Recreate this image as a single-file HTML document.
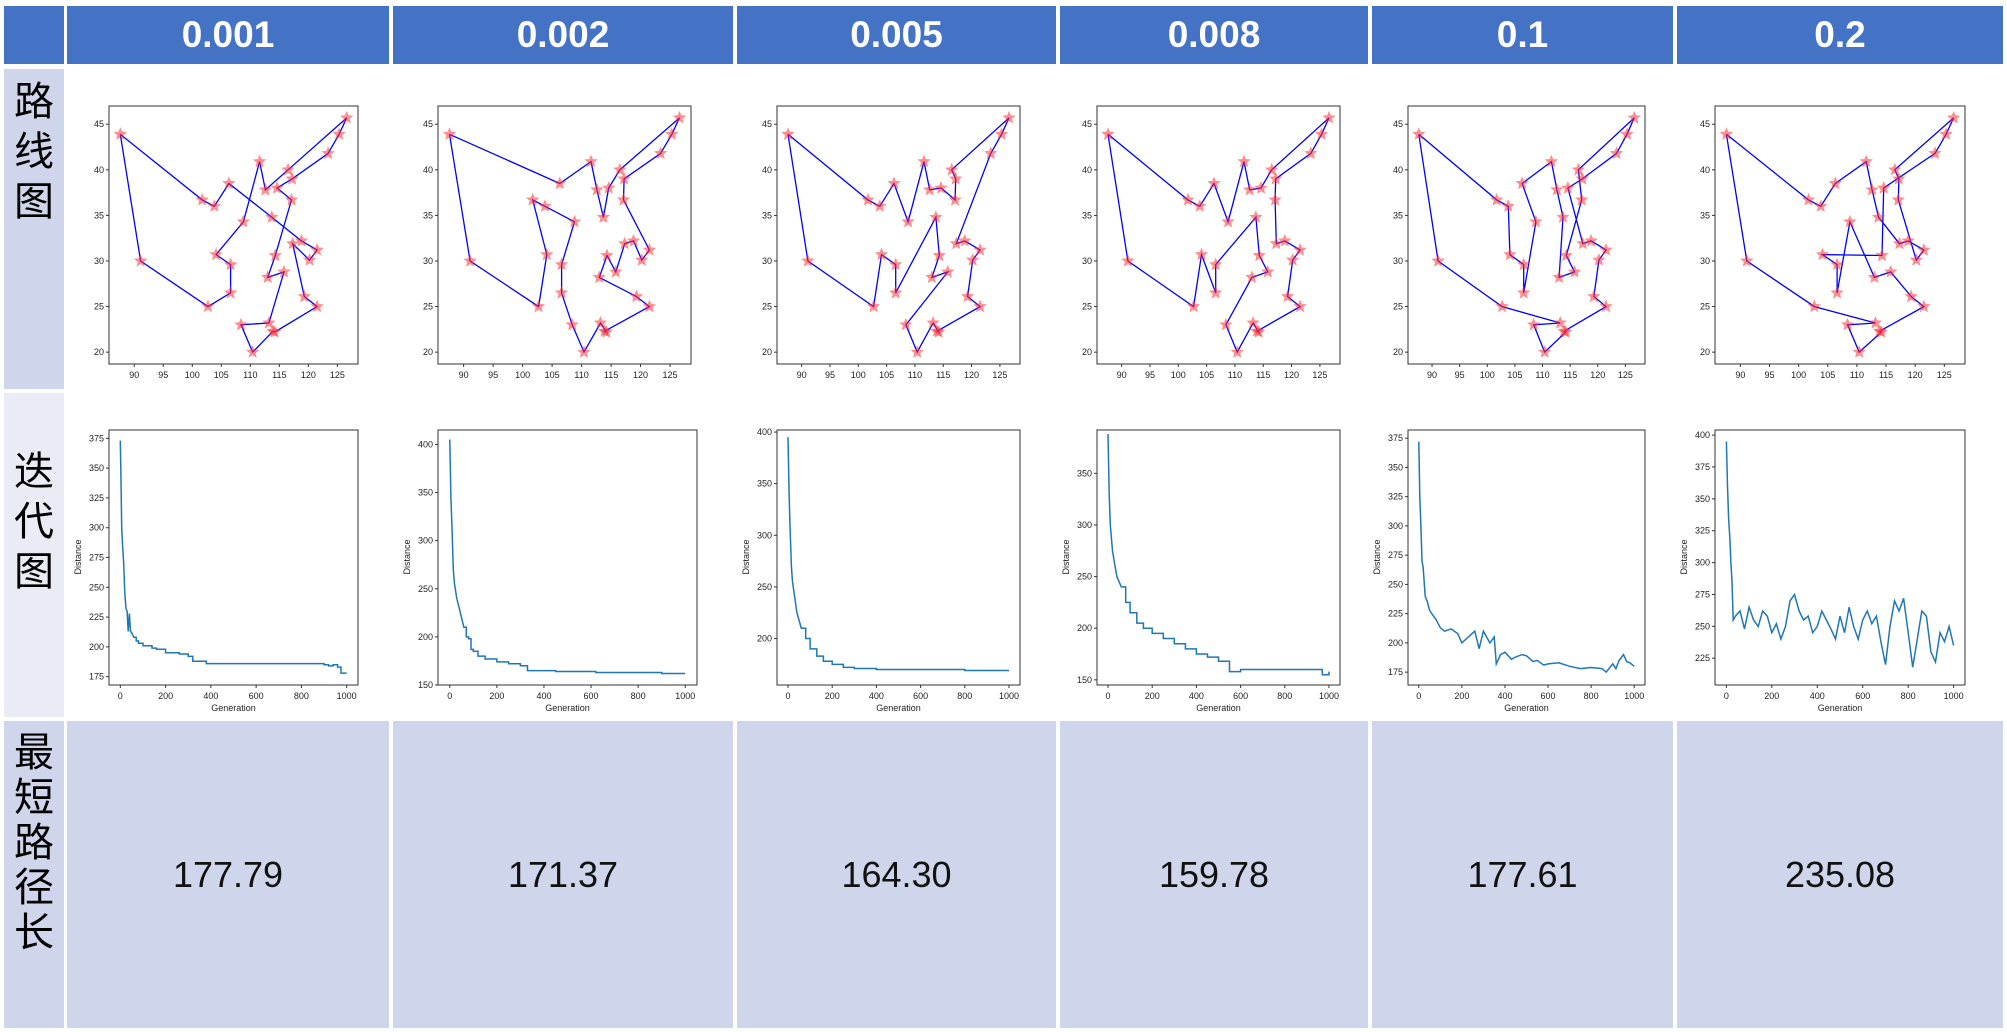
<!DOCTYPE html>
<html><head><meta charset="utf-8">
<style>
body{margin:0;width:2007px;height:1032px;background:#fff;position:relative;overflow:hidden;font-family:"Liberation Sans","Noto Sans CJK SC",sans-serif}
.c{position:absolute;box-sizing:border-box}
.h{background:#4472c4;color:#fff;font-weight:bold;font-size:37px;display:flex;align-items:center;justify-content:center}
.l1{background:#cfd5ea}.l2{background:#e9ebf5}
.lab{font-size:40px;line-height:50px;text-align:center;color:#000}
.v{background:#cfd5ea;font-size:36px;display:flex;align-items:center;justify-content:center;color:#111}
svg text{font-family:"Liberation Sans",sans-serif}
</style></head><body>
<div class="c h" style="left:4px;top:6px;width:60px;height:58px"></div>
<div class="c h" style="left:67px;top:6px;width:322px;height:58px">0.001</div>
<div class="c h" style="left:393px;top:6px;width:340px;height:58px">0.002</div>
<div class="c h" style="left:737px;top:6px;width:319px;height:58px">0.005</div>
<div class="c h" style="left:1060px;top:6px;width:308px;height:58px">0.008</div>
<div class="c h" style="left:1372px;top:6px;width:301px;height:58px">0.1</div>
<div class="c h" style="left:1677px;top:6px;width:326px;height:58px">0.2</div>

<div class="c l1 lab" style="left:4px;top:69px;width:60px;height:320px;padding-top:8px">路<br>线<br>图</div>
<div class="c l2 lab" style="left:4px;top:393px;width:60px;height:324px;padding-top:54px">迭<br>代<br>图</div>
<div class="c l1 lab" style="left:4px;top:721px;width:60px;height:307px;padding-top:10px;line-height:45px">最<br>短<br>路<br>径<br>长</div>

<div class="c v" style="left:67px;top:721px;width:322px;height:307px">177.79</div>
<div class="c v" style="left:393px;top:721px;width:340px;height:307px">171.37</div>
<div class="c v" style="left:737px;top:721px;width:319px;height:307px">164.30</div>
<div class="c v" style="left:1060px;top:721px;width:308px;height:307px">159.78</div>
<div class="c v" style="left:1372px;top:721px;width:301px;height:307px">177.61</div>
<div class="c v" style="left:1677px;top:721px;width:326px;height:307px">235.08</div>

<svg id="plots" width="2007" height="1032" style="position:absolute;left:0;top:0"></svg>

<script>
const cityX=[87.6,91.1,102.7,106.6,106.6,104.1,108.8,111.6,112.6,126.6,125.3,123.4,117.2,116.5,114.6,117.1,113.7,114.3,113.0,115.8,117.3,118.8,121.5,120.2,119.3,121.5,113.9,113.2,108.4,110.4,101.7,103.8,106.3,114.2];
const cityY=[43.9,30.0,25.0,26.5,29.6,30.7,34.3,40.9,37.8,45.7,43.9,41.8,39.0,40.0,38.0,36.7,34.8,30.6,28.2,28.8,31.9,32.2,31.2,30.1,26.1,25.0,22.3,23.2,23.0,20.0,36.7,36.0,38.5,22.2];
const route1=[1,31,32,33,17,22,23,24,21,25,26,34,27,30,29,28,20,19,18,16,15,13,12,11,10,14,9,8,7,6,5,4,3,2];
const route2=[1,33,8,9,17,15,14,10,11,12,13,16,23,24,22,21,20,18,19,25,26,27,34,28,30,29,4,5,7,32,31,6,3,2];
const route3=[1,31,32,33,7,8,9,15,16,13,14,10,11,12,21,22,23,24,25,26,27,34,28,30,29,20,19,18,17,4,5,6,3,2];
const route4=[1,31,32,33,7,8,9,15,14,10,11,12,13,16,21,22,23,24,25,26,27,34,28,30,29,19,20,18,17,5,4,6,3,2];
const route5=[1,31,32,6,5,4,7,33,8,9,17,19,20,18,16,14,10,11,12,13,15,21,22,23,24,25,26,27,34,30,29,28,3,2];
const route6=[1,31,32,33,8,9,17,21,22,23,24,16,13,14,10,11,12,15,18,6,5,4,7,19,20,25,26,27,34,30,29,28,3,2];
const routeXTicks=[90,95,100,105,110,115,120,125];
const routeYTicks=[20,25,30,35,40,45];
const gen1=[0,3,6,10,15,20,25,30,35,40,45,50,60,70,80,100,140,160,200,260,300,320,380,600,850,900,920,940,960,975,1000];
const dist1=[373,340,300,285,270,245,232,230,213,228,213,212,208,205,203,201,199,198,195,194,192,188,186,186,186,185,184,185,183,178,178];
const gen2=[0,5,10,15,20,30,40,50,60,70,80,90,100,120,150,200,250,300,330,450,620,900,1000];
const dist2=[405,345,310,270,255,240,230,220,210,200,198,187,185,180,177,174,172,170,165,164,163,162,162];
const gen3=[0,5,10,15,20,30,40,60,80,100,130,160,200,250,300,400,600,800,1000];
const dist3=[395,340,300,270,255,240,225,210,200,190,183,178,175,172,171,170,170,169,169];
const gen4=[0,5,10,20,30,40,60,80,100,130,160,200,250,300,350,400,450,500,550,600,800,950,970,1000];
const dist4=[388,330,300,275,262,250,240,225,215,205,200,195,190,185,180,175,172,168,158,160,160,160,155,158];
const gen5=[0,5,10,15,20,30,40,50,60,80,100,120,150,180,200,230,260,280,300,330,350,360,380,400,430,450,480,500,530,550,580,600,650,700,750,800,850,870,900,915,930,950,965,980,1000];
const dist5=[372,325,300,270,265,240,235,228,225,220,213,210,212,208,200,205,210,195,210,200,205,182,190,192,186,188,190,189,184,185,181,182,183,180,178,179,178,175,182,178,185,190,184,183,180];
const gen6=[0,5,10,15,20,25,30,40,60,80,100,120,140,160,180,200,220,240,260,280,300,320,340,360,380,400,420,440,460,480,500,520,540,560,580,600,620,640,660,680,700,720,740,760,780,800,820,840,860,880,900,920,940,960,980,1000];
const dist6=[395,360,335,320,300,285,255,258,262,248,265,255,250,262,258,245,252,240,250,270,275,262,255,258,245,250,262,255,248,240,258,245,265,250,240,255,262,252,258,238,220,250,270,262,272,245,218,240,262,258,230,222,245,238,250,235];
const genXTicks=[0,200,400,600,800,1000];
const yTicks1=[175,200,225,250,275,300,325,350,375];
const yTicks2=[150,200,250,300,350,400];
const yTicks3=[200,250,300,350,400];
const yTicks4=[150,200,250,300,350];
const yTicks5=[175,200,225,250,275,300,325,350,375];
const yTicks6=[225,250,275,300,325,350,375,400];

const NS="http://www.w3.org/2000/svg";
const svg=document.getElementById('plots');
function mk(tag,attrs,parent){const e=document.createElementNS(NS,tag);for(const k in attrs)e.setAttribute(k,attrs[k]);(parent||svg).appendChild(e);return e;}
function lin(d0,d1,r0,r1){return v=>r0+(v-d0)/(d1-d0)*(r1-r0);}
const cols=[[109,358],[438,691],[777,1020],[1097,1340],[1408,1645],[1715,1965]];
const routes=[route1,route2,route3,route4,route5,route6];
const gens=[gen1,gen2,gen3,gen4,gen5,gen6];
const dists=[dist1,dist2,dist3,dist4,dist5,dist6];
const yTicksAll=[yTicks1,yTicks2,yTicks3,yTicks4,yTicks5,yTicks6];
const yLims=[[168,382],[150,415],[155,402],[145,392],[164,382],[204,404]];
const stepped=[true,true,true,true,false,false];

function axes(g,x0,x1,y0,y1,sx,sy,xt,yt,name){
  const f=mk('rect',{x:x0,y:y0,width:x1-x0,height:y1-y0,fill:'#fff',stroke:'#333','stroke-width':1},g);
  
  
  xt.forEach(t=>{const x=sx(t);mk('line',{x1:x,x2:x,y1:y1,y2:y1+3,stroke:'#333'},g);
    const tx=mk('text',{x:x,y:y1+14,'font-size':9,'text-anchor':'middle',fill:'#222'},g);tx.textContent=t;
    
    });
  yt.forEach(t=>{const y=sy(t);mk('line',{x1:x0-3,x2:x0,y1:y,y2:y,stroke:'#333'},g);
    const tx=mk('text',{x:x0-5,y:y+3,'font-size':9,'text-anchor':'end',fill:'#222'},g);tx.textContent=t;
    
    });
}
function star(cx,cy,r){let p=[];for(let i=0;i<10;i++){const a=-Math.PI/2+i*Math.PI/5;const rr=i%2?r*0.45:r;p.push((cx+rr*Math.cos(a)).toFixed(1)+','+(cy+rr*Math.sin(a)).toFixed(1));}return p.join(' ');}

cols.forEach((c,i)=>{
  const g=mk('g',{});
  
  
  const sx=lin(85.65,128.55,c[0],c[1]), sy=lin(18.7,47.0,364,106);
  axes(g,c[0],c[1],106,364,sx,sy,routeXTicks,routeYTicks,'route-plot');
  const r=routes[i];
  const pts=r.concat([r[0]]).map(k=>sx(cityX[k-1]).toFixed(1)+','+sy(cityY[k-1]).toFixed(1)).join(' ');
  const pl=mk('polyline',{points:pts,fill:'none',stroke:'#0000ff','stroke-width':1.3},g);
  
  
  cityX.forEach((x,k)=>{const s=mk('polygon',{points:star(sx(x),sy(cityY[k]),7),fill:'#ff3030','fill-opacity':0.55},g);
    
    });
  const g2=mk('g',{});
  
  
  const ix0=c[0], ix1=c[1]+(i==1?6:0);
  const gx=lin(-50,1050,ix0,ix1), gy=lin(yLims[i][0],yLims[i][1],685,430);
  axes(g2,ix0,ix1,430,685,gx,gy,genXTicks,yTicksAll[i],'iteration-plot');
  const gs=gens[i], ds=dists[i];
  let d='M'+gx(gs[0]).toFixed(1)+','+gy(ds[0]).toFixed(1);
  for(let k=1;k<gs.length;k++){
    if(stepped[i]&&gs[k]>60) d+=' L'+gx(gs[k]).toFixed(1)+','+gy(ds[k-1]).toFixed(1);
    d+=' L'+gx(gs[k]).toFixed(1)+','+gy(ds[k]).toFixed(1);
  }
  const p=mk('path',{d:d,fill:'none',stroke:'#1f77b4','stroke-width':1.5},g2);
  
  
  const xl=mk('text',{x:(ix0+ix1)/2,y:711,'font-size':9,'text-anchor':'middle',fill:'#222'},g2);xl.textContent='Generation';
  
  
  const yl=mk('text',{x:0,y:0,'font-size':9,'text-anchor':'middle',fill:'#222',transform:'translate('+(ix0-28)+',557) rotate(-90)'},g2);yl.textContent='Distance';
  
  
});
</script>
</body></html>
